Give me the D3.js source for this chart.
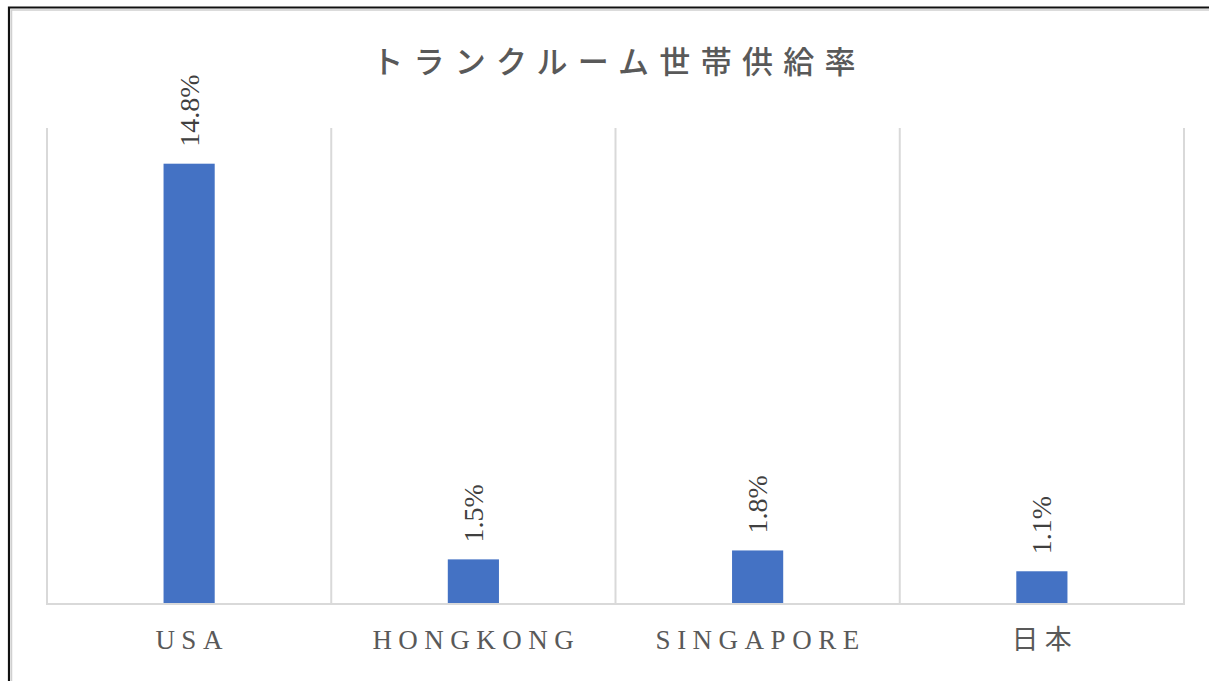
<!DOCTYPE html>
<html>
<head>
<meta charset="utf-8">
<script src="https://cdn.jsdelivr.net/npm/d3@7/dist/d3.min.js"></script>
<style>
  html, body { margin: 0; padding: 0; background: #fff; }
  svg { display: block; }
</style>
</head>
<body>
<svg id="chart" width="1209" height="681"></svg>
<script>
// Storage-unit household supply rate by region
const categories = ["USA", "HONGKONG", "SINGAPORE", "日本"];
const rates = [14.8, 1.5, 1.8, 1.1];
const valueLabels = ["14.8%", "1.5%", "1.8%", "1.1%"];
const title = "トランクルーム世帯供給率";

const W = 1209, H = 681;
const plot = { left: 47, right: 1184, top: 128, bottom: 604 };

const svg = d3.select("#chart");

// frame
svg.append("rect")
  .attr("x", 0).attr("y", 0).attr("width", W).attr("height", H)
  .attr("fill", "#fff");
svg.append("path")
  .attr("d", `M9,${H + 5} V7.5 H${W + 5}`)
  .attr("fill", "none").attr("stroke", "#111").attr("stroke-width", 2.2);
svg.append("path")
  .attr("d", `M11.5,${H + 5} V10 H${W + 5}`)
  .attr("fill", "none").attr("stroke", "#d0d0d0").attr("stroke-width", 1.5);

// title
svg.append("text")
  .attr("x", 619).attr("y", 73)
  .attr("text-anchor", "middle")
  .attr("font-family", "'Noto Sans CJK JP', sans-serif")
  .attr("font-size", 31)
  .attr("font-weight", 500)
  .attr("letter-spacing", 10.3)
  .attr("fill", "#595959")
  .text(title);

// scales
const x = d3.scaleBand()
  .domain(categories)
  .range([plot.left, plot.right])
  .paddingInner(0).paddingOuter(0);

const xBar = d3.scaleBand()
  .domain(categories)
  .range([plot.left, plot.right])
  .paddingInner(0.82).paddingOuter(0.41);

const y = d3.scaleLinear()
  .domain([0, 16])
  .range([plot.bottom, plot.top]);

// vertical separators between categories
const boundaries = categories.map(c => x(c)).concat([x(categories[categories.length - 1]) + x.bandwidth()]);
svg.append("g")
  .selectAll("line")
  .data(boundaries)
  .join("line")
  .attr("x1", d => d).attr("x2", d => d)
  .attr("y1", y(16)).attr("y2", y(0))
  .attr("stroke", "#d9d9d9").attr("stroke-width", 2);

// bars
svg.append("g")
  .selectAll("rect")
  .data(rates)
  .join("rect")
  .attr("x", (d, i) => xBar(categories[i]))
  .attr("width", xBar.bandwidth())
  .attr("y", d => y(d))
  .attr("height", d => y(0) - y(d))
  .attr("fill", "#4472C4");

// baseline
svg.append("line")
  .attr("x1", plot.left - 1).attr("x2", plot.right + 1)
  .attr("y1", y(0)).attr("y2", y(0))
  .attr("stroke", "#d9d9d9").attr("stroke-width", 2);

// value labels, rotated
svg.append("g")
  .selectAll("text")
  .data(rates)
  .join("text")
  .attr("transform", (d, i) => {
    const cx = xBar(categories[i]) + xBar.bandwidth() / 2;
    return `translate(${cx},${y(d) - 17}) rotate(-90)`;
  })
  .attr("dy", "0.34em")
  .attr("text-anchor", "start")
  .attr("font-family", "'Liberation Serif', 'Times New Roman', serif")
  .attr("font-size", 28)
  .attr("fill", "#404040")
  .text((d, i) => valueLabels[i]);

// category axis
const xAxis = svg.append("g")
  .attr("transform", `translate(0,${y(0)})`)
  .call(d3.axisBottom(x).tickSize(0).tickPadding(26));
xAxis.select(".domain").remove();
xAxis.selectAll("text")
  .attr("font-family", "'Liberation Serif', 'Noto Sans CJK JP', serif")
  .attr("font-size", 27)
  .attr("letter-spacing", 6.5)
  .attr("fill", "#595959")
  .attr("dx", 3);
</script>
</body>
</html>
